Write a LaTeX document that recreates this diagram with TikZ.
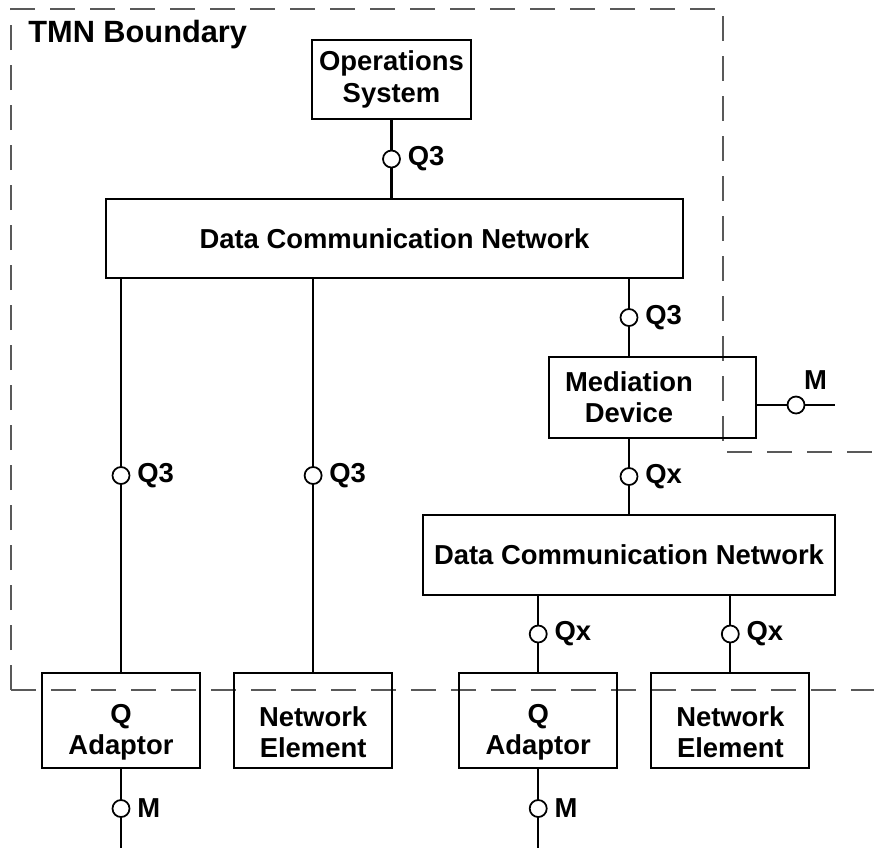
\documentclass[tikz,border=0pt]{standalone}
\usepackage{fontspec}
\setmainfont{Liberation Sans}
\usetikzlibrary{positioning}

\tikzset{
  boxfont/.style={font=\bfseries\fontsize{15.6}{17.8}\selectfont},
  blk/.style={draw, line width=1.2pt, align=center, inner sep=0pt, boxfont},
  txt/.style n args={3}{label={[align=center, boxfont, xshift=#1, yshift=#2]center:{#3}}},
  lbl/.style={font=\bfseries\fontsize{15.6}{18}\selectfont},
  wire/.style={line width=1.2pt},
  iface/.style={circle, draw, fill=white, line width=1pt, inner sep=0pt, minimum size=.34cm},
  port/.style={iface, label={[lbl, label distance=0pt]right:#1}},
  tmn/.style={draw=black!65, line width=.6pt, dash pattern=on .5cm off .3cm}
}

\begin{document}
\begin{tikzpicture}
  \useasboundingbox (0,0) rectangle (17.48,-16.96);
  % TMN boundary
  \draw[tmn] (.22,-13.8) -- (.22,-.18) -- (14.46,-.18) -- (14.46,-9.04) -- (17.48,-9.04);
  \draw[tmn] (.22,-13.8) -- (17.48,-13.8);
  \node[anchor=base west, inner sep=0pt, font=\bfseries\fontsize{17.5}{20}\selectfont]
    (tmnlbl) at (.56,-.84) {TMN Boundary};

  \node[blk, minimum width=3.18cm, minimum height=1.58cm] (os) at (7.83,-1.59) {Operations\\System};
  \node[blk, minimum width=11.54cm, minimum height=1.58cm] (dcn1) at (7.89,-4.77) {Data Communication Network};
  \node[blk, minimum width=4.14cm, minimum height=1.62cm, txt={-.47cm}{0cm}{Mediation\\Device}]
    (md) at (13.05,-7.95) {};
  \node[blk, minimum width=8.24cm, minimum height=1.6cm] (dcn2) at (12.58,-11.10) {Data Communication Network};

  % bottom row
  \node[blk, minimum width=3.16cm, minimum height=1.9cm, txt={0cm}{-.24cm}{Q\\Adaptor}] (qa1) at (2.42,-14.41) {};
  \node[blk, minimum width=3.16cm, minimum height=1.9cm, txt={0cm}{-.24cm}{Network\\Element}, right=.64cm of qa1] (ne1) {};
  \node[blk, minimum width=3.16cm, minimum height=1.9cm, txt={0cm}{-.24cm}{Q\\Adaptor}, right=1.3cm of ne1] (qa2) {};
  \node[blk, minimum width=3.16cm, minimum height=1.9cm, txt={0cm}{-.24cm}{Network\\Element}, right=.64cm of qa2] (ne2) {};

  % connectors
  \draw[wire] (os) -- (dcn1.north -| os) node[port=Q3, midway]{};
  \foreach \b in {qa1,ne1}
    \draw[wire] (dcn1.south -| \b) -- (\b) node[port=Q3, midway]{};
  \draw[wire] (dcn1.south -| dcn2) -- (md.north -| dcn2) node[port=Q3, midway]{};
  \draw[wire] (md.south -| dcn2) -- (dcn2) node[port=Qx, midway]{};
  \foreach \b in {qa2,ne2}
    \draw[wire] (dcn2.south -| \b) -- (\b) node[port=Qx, midway]{};

  \coordinate (mend) at (16.7,-8.1);
  \draw[wire] (md.east |- mend) -- (mend)
    node[iface, midway, label={[lbl, inner sep=0pt, xshift=.39cm, yshift=.5cm]center:M}]{};
  \foreach \b in {qa1,qa2}{
    \coordinate (\b-e) at (\b |- 0,-16.96);
    \draw[wire] (\b) -- (\b-e) node[port=M, midway]{};
  }
\end{tikzpicture}
\end{document}
